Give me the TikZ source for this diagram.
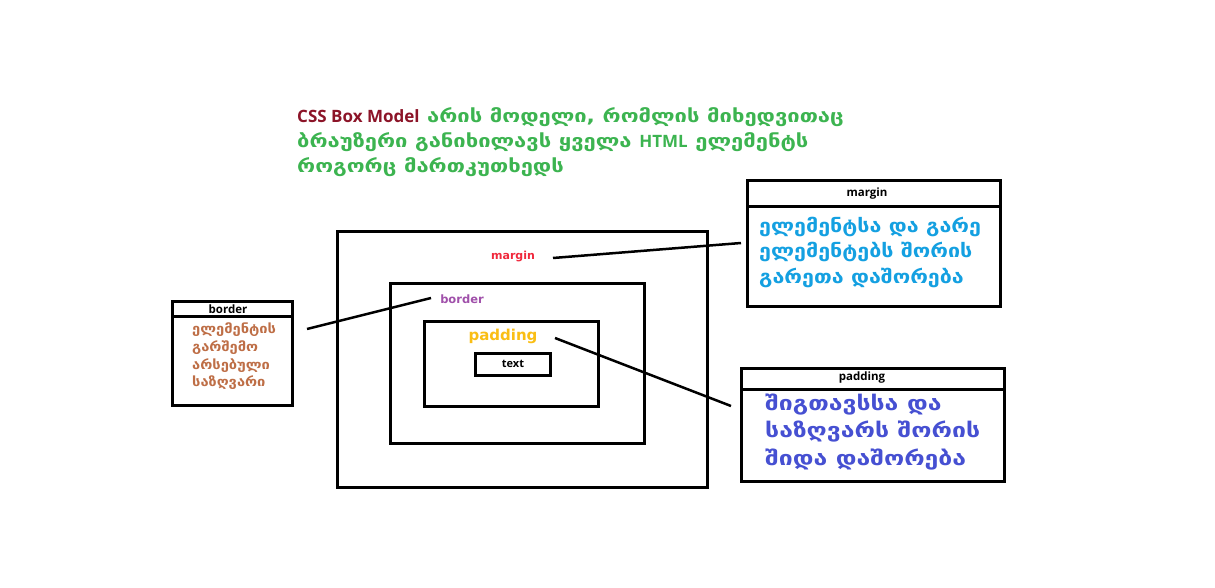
\documentclass[tikz,border=0pt]{standalone}
\usepackage{fontspec}
\setmainfont{DejaVu Sans}
\newfontfamily\geoT[FakeStretch=1.22]{DejaVu Sans}
\newfontfamily\geoM[FakeStretch=1.16]{DejaVu Sans}
\newfontfamily\geoP[FakeStretch=1.24]{DejaVu Sans}
\newfontfamily\geoB[FakeStretch=1.13]{DejaVu Sans}
\newfontfamily\geo{DejaVu Sans}
\newfontfamily\lat{Open Sans}
\definecolor{tred}{RGB}{140,20,40}
\definecolor{tgreen}{RGB}{60,180,80}
\definecolor{mred}{RGB}{240,40,60}
\definecolor{bpurple}{RGB}{160,80,170}
\definecolor{pyellow}{RGB}{250,190,20}
\definecolor{mblue}{RGB}{20,160,225}
\definecolor{pblue}{RGB}{70,80,210}
\definecolor{bbrown}{RGB}{190,110,70}
\tikzset{
  frame/.style={draw=black,line width=3pt},
  conn/.style={draw=black,line width=2.5pt},
  lbl/.style={inner sep=0pt,font=\geo\bfseries},
  gtext/.style={inner sep=0pt,anchor=west},
  ttl/.style={gtext,font=\geoT\bfseries\fontsize{18}{21}\selectfont},
  mtxt/.style={gtext,text=mblue,font=\geoM\bfseries\fontsize{18.5}{21}\selectfont},
  ptxt/.style={gtext,text=pblue,font=\geoP\bfseries\fontsize{20}{23}\selectfont},
  btxt/.style={gtext,text=bbrown,font=\geoB\bfseries\fontsize{13}{15}\selectfont},
  hdr/.style={inner sep=0pt,font=\lat\bfseries\fontsize{11.5}{13}\selectfont},
}
\begin{document}
\begin{tikzpicture}[x=1pt,y=-1pt]
\useasboundingbox[fill=white] (0,0) rectangle (1215,588);
% title
\node[ttl] (t1) at (297,117)
  {\textcolor{tred}{\lat\bfseries\fontsize{17}{20}\selectfont CSS Box Model} \textcolor{tgreen}{არის მოდელი, რომლის მიხედვითაც}};
\node[ttl,text=tgreen] (t2) at (297,142)
  {ბრაუზერი განიხილავს ყველა {\lat\bfseries\fontsize{17}{20}\selectfont HTML} ელემენტს};
\node[ttl,text=tgreen] (t3) at (297,167)
  {როგორც მართკუთხედს};
% nested boxes
\draw[frame] (337,231) rectangle (707,487);
\draw[frame] (390,283) rectangle (644,443);
\draw[frame] (424,321) rectangle (598,406);
\draw[frame] (475,353) rectangle (550,375);
\node[lbl,text=mred,font=\geo\bfseries\fontsize{11}{13}\selectfont] (lm) at (513,257) {margin};
\node[lbl,text=bpurple,font=\geo\bfseries\fontsize{11.5}{14}\selectfont] (lb) at (462,299) {border};
\node[lbl,text=pyellow,font=\geo\bfseries\fontsize{15}{17}\selectfont] (lp) at (503,336) {padding};
\node[hdr,font=\lat\bfseries\fontsize{11}{13}\selectfont] (lt) at (513,364) {text};
% margin box
\draw[frame] (747,181) rectangle (1000,306);
\draw[frame] (747,207) -- (1000,207);
\node[hdr] (hm) at (867,194) {margin};
\node[mtxt] (m1) at (759,227) {ელემენტსა და გარე};
\node[mtxt] (m2) at (759,252) {ელემენტებს შორის};
\node[mtxt] (m3) at (759,278) {გარეთა დაშორება};
% padding box
\draw[frame] (741,368) rectangle (1004,481);
\draw[frame] (741,389) -- (1004,389);
\node[hdr] (hp) at (862,378) {padding};
\node[ptxt] (p1) at (765,405) {შიგთავსსა და};
\node[ptxt] (p2) at (765,432) {საზღვარს შორის};
\node[ptxt] (p3) at (765,460) {შიდა დაშორება};
% border box
\draw[frame] (172,301) rectangle (292,405);
\draw[frame] (172,316) -- (292,316);
\node[hdr] (hb) at (228,309) {border};
\node[btxt] (b1) at (192,330) {ელემენტის};
\node[btxt] (b2) at (192,348) {გარშემო};
\node[btxt] (b3) at (192,366) {არსებული};
\node[btxt] (b4) at (192,383) {საზღვარი};
% connectors
\coordinate (cm1) at (553,258);
\coordinate (cm2) at (741,243);
\coordinate (cb1) at (307,329);
\coordinate (cb2) at (431,298);
\coordinate (cp1) at (555,338);
\coordinate (cp2) at (731,406);
\draw[conn] (cm1) -- (cm2);
\draw[conn] (cb1) -- (cb2);
\draw[conn] (cp1) -- (cp2);
\end{tikzpicture}
\end{document}
